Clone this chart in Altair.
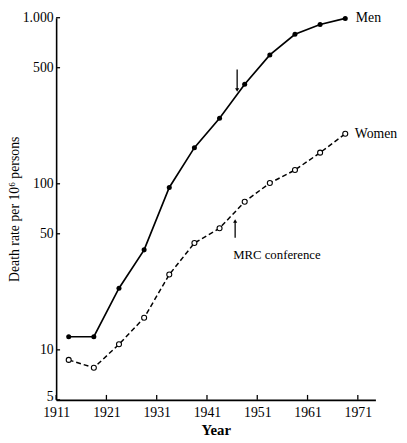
import altair as alt
import pandas as pd

# ---- data ----
years = [1913.5, 1918.5, 1923.5, 1928.5, 1933.5, 1938.5, 1943.5, 1948.5, 1953.5, 1958.5, 1963.5, 1968.5]
men = [12, 12, 23.5, 40, 95, 165, 248, 398, 597, 795, 910, 990]
women = [8.7, 7.8, 10.8, 15.6, 28.4, 44, 54, 78, 101, 121, 154, 200]

x_ticks = [1911, 1921, 1931, 1941, 1951, 1961, 1971]
y_ticks = [5, 10, 50, 100, 500, 1000]

label_text = ["Men", "Women", "MRC conference"]
label_year = [1970.6, 1970.4, 1946.2]
label_rate = [1000, 200, 37]
label_size = [14, 14, 13]

arrow_year = [1947.0, 1946.6]
arrow_from = [488, 47.4]
arrow_to = [367, 59.7]
arrow_head = ["triangle-down", "triangle-up"]

FONT = "Liberation Serif"

men_df = pd.DataFrame({"year": years, "rate": men})
women_df = pd.DataFrame({"year": years, "rate": women})
lab_df = pd.DataFrame({"year": label_year, "rate": label_rate, "text": label_text, "size": label_size})
arr_df = pd.DataFrame({"year": arrow_year, "rate": arrow_from, "rate2": arrow_to, "head": arrow_head})
yt_df = pd.DataFrame({"rate": y_ticks})
xt_df = pd.DataFrame({"year": x_ticks})

xs = alt.Scale(domain=[1911, 1974.5], nice=False, zero=False)
ys = alt.Scale(type="log", domain=[5, 1000], nice=False)

x_axis = alt.Axis(values=x_ticks, format="d", title="Year", ticks=False, grid=False,
                  labelFont=FONT, labelFontSize=14, labelColor="black", labelPadding=6,
                  titleFont=FONT, titleFontSize=15, titleFontWeight="bold", titleColor="black",
                  titlePadding=3, domainColor="black", domainWidth=1.6, labelFlush=False)
y_axis = alt.Axis(values=y_ticks, title="Death rate per 10⁶ persons", ticks=False, grid=False,
                  labelExpr="datum.value >= 1000 ? '1.000' : format(datum.value, 'd')",
                  labelFont=FONT, labelFontSize=14, labelColor="black", labelPadding=3,
                  labelOffset={"condition": {"test": "datum.value == 5", "value": -3}, "value": 0},
                  titleFont=FONT, titleFontSize=14, titleFontWeight="normal", titleColor="black",
                  titleX=-42, titleY=194.5, titleAngle=270, titleAlign="center", titleBaseline="middle",
                  domainColor="black", domainWidth=1.6, labelFlush=False)

X = alt.X("year:Q", scale=xs, axis=x_axis)
Y = alt.Y("rate:Q", scale=ys, axis=y_axis)

men_line = alt.Chart(men_df).mark_line(color="black", strokeWidth=1.7, interpolate="linear").encode(x=X, y=Y)
men_pts = alt.Chart(men_df).mark_point(filled=True, color="black", size=26, opacity=1).encode(x=X, y=Y)
women_line = alt.Chart(women_df).mark_line(color="black", strokeWidth=1.5, strokeDash=[5, 3], interpolate="linear").encode(x=X, y=Y)
women_pts = alt.Chart(women_df).mark_point(filled=True, fill="white", stroke="black", strokeWidth=1.1, size=26, opacity=1).encode(x=X, y=Y)

labels = alt.Chart(lab_df).mark_text(align="left", baseline="middle", font=FONT, color="black").encode(
    x=X, y=Y, text="text:N", size=alt.Size("size:Q", scale=None, legend=None))

arrow_shaft = alt.Chart(arr_df).mark_rule(color="black", strokeWidth=1.3).encode(
    x=X, y=Y, y2=alt.Y2("rate2:Q"))
arrow_tip = alt.Chart(arr_df).mark_point(filled=True, color="black", size=18, opacity=1).encode(
    x=X, y=alt.Y("rate2:Q", scale=ys, axis=y_axis), shape=alt.Shape("head:N", scale=None, legend=None))

y_tick_marks = alt.Chart(yt_df).mark_rule(color="black", strokeWidth=1.3).encode(
    y=Y, x=alt.value(0), x2=alt.value(4))
x_tick_marks = alt.Chart(xt_df).mark_rule(color="black", strokeWidth=1.3).encode(
    x=X, y=alt.value(389), y2=alt.value(384))

chart = alt.layer(
    y_tick_marks, x_tick_marks, men_line, men_pts, women_line, women_pts, arrow_shaft, arrow_tip, labels
).properties(
    width=325, height=389,
    autosize=alt.AutoSizeParams(type="none"),
    padding={"left": 49, "top": 6, "right": 24, "bottom": 38},
    background="white",
).configure_view(stroke=None)

chart.save("out.html", embed_options={"renderer": "svg", "actions": False})
